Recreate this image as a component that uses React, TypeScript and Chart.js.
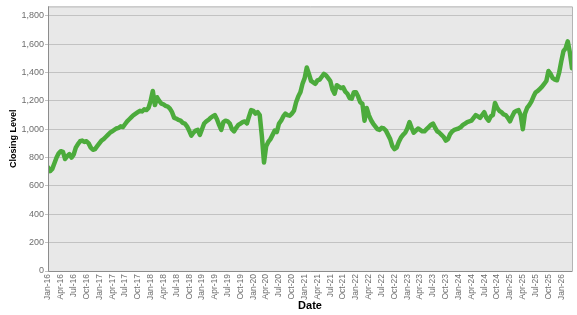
import React, { useEffect, useRef } from "react";
import { Chart, registerables } from "chart.js";

Chart.register(...registerables);

// Semi-monthly closing levels, starting January of each year
const v2016 = [730, 705, 720, 760, 800, 830, 845, 840, 790, 810, 825, 800, 820, 870, 895, 915, 920, 910, 915, 900, 870, 855, 860, 880];
const v2017 = [900, 920, 930, 945, 960, 975, 985, 995, 1005, 1010, 1020, 1015, 1035, 1055, 1070, 1085, 1100, 1110, 1120, 1130, 1125, 1140, 1135, 1150];
const v2018 = [1200, 1270, 1170, 1225, 1200, 1180, 1175, 1165, 1160, 1145, 1120, 1080, 1075, 1065, 1060, 1045, 1040, 1020, 990, 955, 975, 990, 995, 960];
const v2019 = [1000, 1040, 1055, 1065, 1080, 1090, 1100, 1070, 1030, 995, 1050, 1060, 1055, 1040, 1000, 985, 1010, 1030, 1040, 1050, 1055, 1040, 1090, 1135];
const v2020 = [1130, 1110, 1120, 1100, 950, 765, 880, 910, 930, 960, 990, 980, 1040, 1060, 1090, 1110, 1100, 1095, 1110, 1130, 1190, 1230, 1260, 1320];
const v2021 = [1360, 1435, 1390, 1340, 1330, 1320, 1345, 1350, 1370, 1390, 1380, 1360, 1340, 1280, 1250, 1310, 1300, 1290, 1295, 1265, 1250, 1220, 1215, 1260];
const v2022 = [1260, 1230, 1190, 1180, 1060, 1150, 1100, 1065, 1040, 1020, 1000, 995, 1010, 1005, 990, 960, 930, 880, 860, 870, 910, 940, 960, 975];
const v2023 = [1005, 1050, 1010, 975, 990, 1005, 995, 985, 985, 1000, 1015, 1030, 1040, 1010, 985, 975, 960, 945, 920, 930, 965, 985, 995, 1000];
const v2024 = [1005, 1015, 1030, 1040, 1050, 1055, 1060, 1080, 1100, 1090, 1080, 1100, 1120, 1080, 1060, 1090, 1100, 1185, 1150, 1130, 1120, 1105, 1100, 1080];
const v2025 = [1055, 1090, 1120, 1130, 1135, 1100, 1000, 1110, 1150, 1170, 1195, 1230, 1260, 1270, 1285, 1300, 1320, 1340, 1410, 1390, 1360, 1350, 1345, 1400];
const v2026 = [1480, 1550, 1570, 1620, 1540, 1430];

const xTickLabels = [
  "Jan-16", "Apr-16", "Jul-16", "Oct-16",
  "Jan-17", "Apr-17", "Jul-17", "Oct-17",
  "Jan-18", "Apr-18", "Jul-18", "Oct-18",
  "Jan-19", "Apr-19", "Jul-19", "Oct-19",
  "Jan-20", "Apr-20", "Jul-20", "Oct-20",
  "Jan-21", "Apr-21", "Jul-21", "Oct-21",
  "Jan-22", "Apr-22", "Jul-22", "Oct-22",
  "Jan-23", "Apr-23", "Jul-23", "Oct-23",
  "Jan-24", "Apr-24", "Jul-24", "Oct-24",
  "Jan-25", "Apr-25", "Jul-25", "Oct-25",
  "Jan-26",
];

const yTickValues = [0, 200, 400, 600, 800, 1000, 1200, 1400, 1600, 1800];

const allValues = [...v2016, ...v2017, ...v2018, ...v2019, ...v2020, ...v2021, ...v2022, ...v2023, ...v2024, ...v2025, ...v2026];

const plotBg = {
  id: "plotBg",
  beforeDraw(chart: any) {
    const { ctx, chartArea } = chart;
    ctx.save();
    ctx.fillStyle = "#e8e8e8";
    ctx.fillRect(chartArea.left, chartArea.top, chartArea.right - chartArea.left, chartArea.bottom - chartArea.top);
    ctx.restore();
  },
  afterDraw(chart: any) {
    const { ctx, chartArea } = chart;
    ctx.save();
    ctx.strokeStyle = "#b4b4b4";
    ctx.lineWidth = 1;
    ctx.beginPath();
    ctx.moveTo(chartArea.left, chartArea.top + 0.5);
    ctx.lineTo(chartArea.right + 0.5, chartArea.top + 0.5);
    ctx.lineTo(chartArea.right + 0.5, chartArea.bottom);
    ctx.stroke();
    ctx.strokeStyle = "#8c8c8c";
    ctx.beginPath();
    ctx.moveTo(chartArea.left + 0.5, chartArea.top);
    ctx.lineTo(chartArea.left + 0.5, chartArea.bottom + 0.5);
    ctx.lineTo(chartArea.right + 0.5, chartArea.bottom + 0.5);
    ctx.stroke();
    ctx.restore();
  },
};

export default function App() {
  const ref = useRef<HTMLCanvasElement | null>(null);
  useEffect(() => {
    if (!ref.current) return;
    const data = allValues.map((y, i) => ({ x: i / 2, y }));
    const chart = new Chart(ref.current, {
      type: "line",
      data: {
        datasets: [
          {
            data,
            borderColor: "#4cab3c",
            borderWidth: 4.5,
            pointRadius: 0,
            tension: 0,
            fill: false,
            borderJoinStyle: "round",
            borderCapStyle: "round",
          },
        ],
      },
      options: {
        animation: false,
        responsive: false,
        devicePixelRatio: 1,
        layout: { padding: { top: 3, right: 5, left: 0, bottom: 0 } },
        plugins: { legend: { display: false }, tooltip: { enabled: false } },
        scales: {
          x: {
            type: "linear",
            min: 0,
            max: 122.5,
            afterBuildTicks: (axis: any) => {
              axis.ticks = xTickLabels.map((_, i) => ({ value: i * 3 }));
            },
            afterFit: (axis: any) => {
              axis.height = 44;
            },
            grid: { display: false, drawTicks: false, tickLength: 0 },
            border: { display: false },
            ticks: {
              autoSkip: false,
              maxRotation: 90,
              minRotation: 90,
              padding: 3,
              color: "#6e6e6e",
              font: { family: "'Liberation Sans', Arial, sans-serif", size: 8.5 },
              callback: (v: any) => xTickLabels[Math.round(Number(v) / 3)] ?? "",
            },
            title: {
              display: true,
              text: "Date",
              color: "#000",
              font: { family: "'Liberation Sans', Arial, sans-serif", size: 11, weight: "bold" },
              padding: { top: 0, bottom: 2 },
            },
          },
          y: {
            type: "linear",
            min: 0,
            max: 1866,
            afterBuildTicks: (axis: any) => {
              axis.ticks = yTickValues.map((v) => ({ value: v }));
            },
            afterFit: (axis: any) => {
              axis.width = 48;
            },
            grid: { color: "#c2c2c2", lineWidth: 1, tickLength: 3, drawTicks: true },
            border: { display: false },
            ticks: {
              padding: 1,
              color: "#6e6e6e",
              font: { family: "'Liberation Sans', Arial, sans-serif", size: 9 },
              callback: (v: any) => Number(v).toLocaleString("en-US"),
            },
            title: {
              display: true,
              text: "Closing Level",
              color: "#000",
              font: { family: "'Liberation Sans', Arial, sans-serif", size: 9, weight: "bold" },
              padding: { top: 8, bottom: 0 },
            },
          },
        },
      },
      plugins: [plotBg],
    });
    return () => chart.destroy();
  }, []);
  return (
    <div style={{ position: "absolute", left: 0, top: 0, width: 577, height: 315, background: "#fff" }}>
      <canvas ref={ref} width={577} height={315} style={{ width: 577, height: 315, display: "block" }} />
    </div>
  );
}
